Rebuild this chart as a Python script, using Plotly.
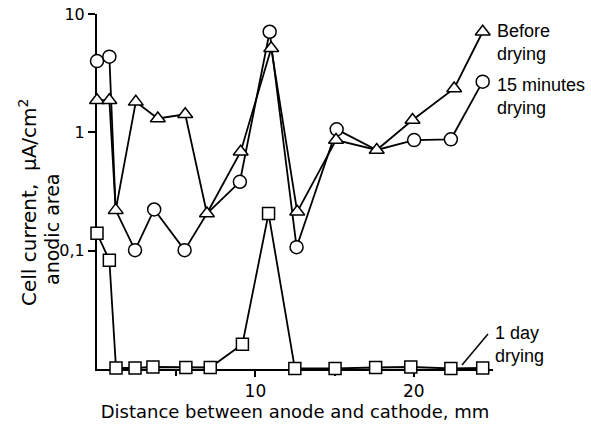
import plotly.graph_objects as go

# Before drying (triangles)
x_before = [0, 0.78, 1.18, 2.45, 3.84, 5.57, 6.94, 9.07, 11.0, 12.64, 15.09, 17.66, 19.92, 22.55, 24.35]
y_before = [1.87, 1.87, 0.22, 1.81, 1.31, 1.42, 0.206, 0.686, 5.13, 0.213, 0.86, 0.71, 1.27, 2.35, 7.08]

# 15 minutes drying (circles); some points coincide with the triangle curve (no visible marker)
x_15min = [0, 0.78, 1.18, 2.4, 3.61, 5.53, 6.94, 9.02, 10.9, 12.6, 15.13, 17.66, 20.02, 22.34, 24.35]
y_15min = [4.0, 4.36, 0.22, 0.101, 0.223, 0.101, 0.206, 0.382, 7.08, 0.107, 1.06, 0.71, 0.86, 0.873, 2.68]
visible_15min = [1, 1, 0, 1, 1, 1, 0, 1, 1, 1, 1, 0, 1, 1, 1]

# 1 day drying (squares)
x_1day = [0, 0.78, 1.2, 2.4, 3.53, 5.61, 7.15, 9.18, 10.83, 12.49, 15.03, 17.59, 19.81, 22.34, 24.35]
y_1day = [0.14, 0.083, 0.0102, 0.0102, 0.0104, 0.0103, 0.0103, 0.0162, 0.206, 0.0101, 0.0101, 0.0103, 0.0104, 0.0101, 0.0102]

y_tickvals = [0.1, 1, 10]
y_ticktext = ["0,1", "1", "10"]
x_tickvals = [10, 20]
x_ticktext = ["10", "20"]
x_minor_tickvals = [5, 15]

FONT = "DejaVu Sans"
LBL_FONT = "Liberation Sans"
line = dict(color="black", width=1.8)

fig = go.Figure()
fig.add_trace(go.Scatter(
    x=x_1day, y=y_1day, mode="lines+markers", line=line, cliponaxis=False,
    marker=dict(symbol="square", size=12, color="white", opacity=1,
                line=dict(color="black", width=1.5))))
fig.add_trace(go.Scatter(
    x=x_15min, y=y_15min, mode="lines+markers", line=line, cliponaxis=False,
    marker=dict(symbol="circle", size=[13 if v else 0 for v in visible_15min], color="white",
                opacity=1, line=dict(color="black", width=1.5))))
fig.add_trace(go.Scatter(
    x=x_before, y=y_before, mode="lines+markers", line=line, cliponaxis=False,
    marker=dict(symbol="triangle-up", size=13, color="white", opacity=1,
                line=dict(color="black", width=1.5))))

W, H = 591, 430
L, R, T, B = 97, 98, 14, 61
pw, ph = W - L - R, H - T - B

def px(xp):  # page pixel -> paper x
    return (xp - L) / pw

def py(yp):  # page pixel -> paper y
    return (H - B - yp) / ph

fig.update_layout(
    width=W, height=H, margin=dict(l=L, r=R, t=T, b=B, autoexpand=False),
    paper_bgcolor="white", plot_bgcolor="white", showlegend=False,
    font=dict(family=FONT, color="black", size=16),
    xaxis=dict(range=[0, 25], showgrid=False, zeroline=False, showline=True, linecolor="black",
               linewidth=2, ticks="outside", ticklen=6, tickwidth=1.5, tickcolor="black",
               tickmode="array", tickvals=x_tickvals, ticktext=x_ticktext, tickfont=dict(size=17),
               minor=dict(tickmode="array", tickvals=x_minor_tickvals, ticks="outside", ticklen=5,
                          tickwidth=1.5, tickcolor="black", showgrid=False),
               automargin=False, layer="below traces",
               title=dict(text="Distance between anode and cathode, mm", font=dict(size=18), standoff=2)),
    yaxis=dict(type="log", range=[-2, 1], showgrid=False, zeroline=False, showline=True,
               linecolor="black", linewidth=2, ticks="outside", ticklen=7, tickwidth=1.5,
               tickcolor="black", tickvals=y_tickvals, ticktext=y_ticktext, tickfont=dict(size=16),
               automargin=False, layer="below traces", ticklabeloverflow="allow"),
)

fig.add_annotation(xref="paper", yref="paper", x=px(28), y=py(202),
                   text="Cell current,  μA/cm<sup>2</sup>", textangle=-90,
                   showarrow=False, xanchor="center", yanchor="middle", font=dict(size=20))
fig.add_annotation(xref="paper", yref="paper", x=px(52), y=py(229),
                   text="anodic area", textangle=-90,
                   showarrow=False, xanchor="center", yanchor="middle", font=dict(size=19))
fig.add_annotation(xref="paper", yref="paper", x=px(495), y=py(42), text="Before<br>drying",
                   showarrow=False, xanchor="left", yanchor="middle", align="left",
                   font=dict(size=18, family=LBL_FONT))
fig.add_annotation(xref="paper", yref="paper", x=px(495), y=py(96), text="15 minutes<br>drying",
                   showarrow=False, xanchor="left", yanchor="middle", align="left",
                   font=dict(size=18, family=LBL_FONT))
fig.add_annotation(xref="paper", yref="paper", x=px(493), y=py(344), text="1 day<br>drying",
                   showarrow=False, xanchor="left", yanchor="middle", align="left",
                   font=dict(size=18, family=LBL_FONT))
fig.add_shape(type="line", xref="paper", yref="paper", x0=px(462), y0=py(365), x1=px(488), y1=py(334),
              line=dict(color="black", width=1.5))

fig.write_html("out.html", config={"displayModeBar": False},
               post_script="document.body.style.margin='0px';")
